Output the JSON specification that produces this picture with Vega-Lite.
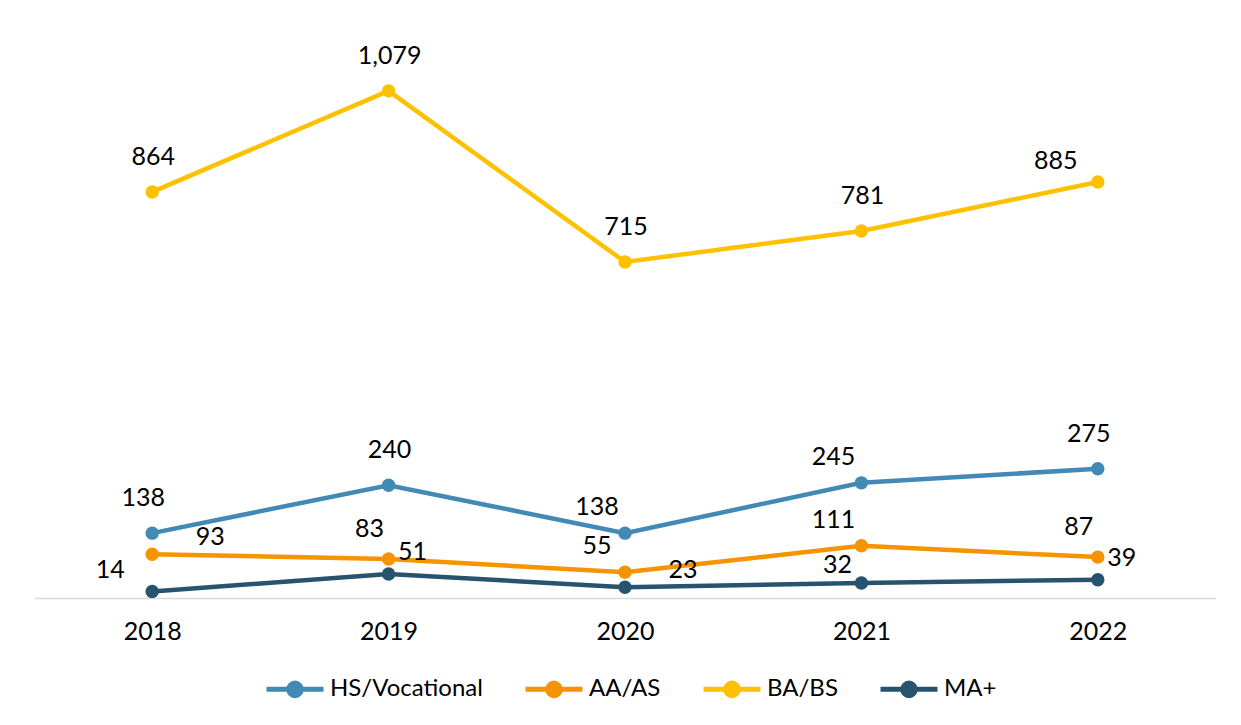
{
  "$schema": "https://vega.github.io/schema/vega-lite/v6.json",
  "width": 1182,
  "height": 564,
  "padding": {"left": 34, "top": 34, "right": 0, "bottom": 0},
  "autosize": {"type": "pad"},
  "background": "white",
  "config": {"view": {"stroke": null}, "font": "Lato"},
  "data": {
    "values": [
      {"series": "HS/Vocational", "year": "2018", "value": 138},
      {"series": "HS/Vocational", "year": "2019", "value": 240},
      {"series": "HS/Vocational", "year": "2020", "value": 138},
      {"series": "HS/Vocational", "year": "2021", "value": 245},
      {"series": "HS/Vocational", "year": "2022", "value": 275},
      {"series": "AA/AS", "year": "2018", "value": 93},
      {"series": "AA/AS", "year": "2019", "value": 83},
      {"series": "AA/AS", "year": "2020", "value": 55},
      {"series": "AA/AS", "year": "2021", "value": 111},
      {"series": "AA/AS", "year": "2022", "value": 87},
      {"series": "BA/BS", "year": "2018", "value": 864},
      {"series": "BA/BS", "year": "2019", "value": 1079},
      {"series": "BA/BS", "year": "2020", "value": 715},
      {"series": "BA/BS", "year": "2021", "value": 781},
      {"series": "BA/BS", "year": "2022", "value": 885},
      {"series": "MA+", "year": "2018", "value": 14},
      {"series": "MA+", "year": "2019", "value": 51},
      {"series": "MA+", "year": "2020", "value": 23},
      {"series": "MA+", "year": "2021", "value": 32},
      {"series": "MA+", "year": "2022", "value": 39}
    ]
  },
  "encoding": {
    "x": {
      "field": "year",
      "type": "ordinal",
      "sort": null,
      "scale": {"type": "point", "padding": 0.5},
      "axis": {
        "title": null,
        "labelAngle": 0,
        "labelFontSize": 25,
        "labelFont": "Lato",
        "labelColor": "#000000",
        "labelPadding": 21,
        "ticks": false,
        "domainColor": "#D9D9D9",
        "domainWidth": 1.5,
        "grid": false
      }
    },
    "y": {
      "field": "value",
      "type": "quantitative",
      "scale": {"domain": [0, 1200], "nice": false},
      "axis": null
    }
  },
  "layer": [
    {
      "mark": {"type": "line", "strokeWidth": 4.5},
      "encoding": {
        "color": {
          "field": "series",
          "type": "nominal",
          "scale": {
            "domain": ["HS/Vocational", "AA/AS", "BA/BS", "MA+"],
            "range": ["#4389B6", "#F59300", "#FFC000", "#27536E"]
          },
          "legend": {
            "title": null,
            "orient": "none",
            "legendX": 230,
            "legendY": 624,
            "direction": "horizontal",
            "labelFontSize": 24,
            "labelFont": "Lato",
            "labelColor": "#000000",
            "labelOffset": 4,
            "columnPadding": 32,
            "symbolType": "M-1,0H1M-0.22,0A0.22,0.22,0,1,1,0.22,0A0.22,0.22,0,1,1,-0.22,0Z",
            "symbolSize": 3249,
            "symbolStrokeWidth": 5,
            "encode": {
              "symbols": {
                "update": {
                  "fill": {"scale": "color", "field": "value"},
                  "stroke": {"scale": "color", "field": "value"},
                  "opacity": {"value": 1}
                }
              }
            }
          }
        }
      }
    },
    {
      "mark": {"type": "point", "filled": true, "size": 180, "opacity": 1},
      "encoding": {
        "color": {"field": "series", "type": "nominal", "legend": null}
      }
    },
    {
      "transform": [{"filter": "indexof(['BA/BS 2018','BA/BS 2019','BA/BS 2020','BA/BS 2021','HS/Vocational 2019'], datum.series + ' ' + datum.year) >= 0"}],
      "mark": {"type": "text", "dx": 1, "dy": -35, "fontSize": 25, "font": "Lato", "color": "#000000", "baseline": "middle", "align": "center"},
      "encoding": {"text": {"field": "value", "type": "quantitative", "format": ","}}
    },
    {
      "transform": [{"filter": "indexof(['HS/Vocational 2018','HS/Vocational 2022'], datum.series + ' ' + datum.year) >= 0"}],
      "mark": {"type": "text", "dx": -9, "dy": -35, "fontSize": 25, "font": "Lato", "color": "#000000", "baseline": "middle", "align": "center"},
      "encoding": {"text": {"field": "value", "type": "quantitative", "format": ","}}
    },
    {
      "transform": [{"filter": "indexof(['HS/Vocational 2020','HS/Vocational 2021','AA/AS 2020','AA/AS 2021'], datum.series + ' ' + datum.year) >= 0"}],
      "mark": {"type": "text", "dx": -28, "dy": -26, "fontSize": 25, "font": "Lato", "color": "#000000", "baseline": "middle", "align": "center"},
      "encoding": {"text": {"field": "value", "type": "quantitative", "format": ","}}
    },
    {
      "transform": [{"filter": "indexof(['AA/AS 2019','AA/AS 2022'], datum.series + ' ' + datum.year) >= 0"}],
      "mark": {"type": "text", "dx": -19, "dy": -30, "fontSize": 25, "font": "Lato", "color": "#000000", "baseline": "middle", "align": "center"},
      "encoding": {"text": {"field": "value", "type": "quantitative", "format": ","}}
    },
    {
      "transform": [{"filter": "indexof(['MA+ 2021'], datum.series + ' ' + datum.year) >= 0"}],
      "mark": {"type": "text", "dx": -24, "dy": -18, "fontSize": 25, "font": "Lato", "color": "#000000", "baseline": "middle", "align": "center"},
      "encoding": {"text": {"field": "value", "type": "quantitative", "format": ","}}
    },
    {
      "transform": [{"filter": "indexof(['BA/BS 2022','MA+ 2018'], datum.series + ' ' + datum.year) >= 0"}],
      "mark": {"type": "text", "dx": -42, "dy": -21, "fontSize": 25, "font": "Lato", "color": "#000000", "baseline": "middle", "align": "center"},
      "encoding": {"text": {"field": "value", "type": "quantitative", "format": ","}}
    },
    {
      "transform": [{"filter": "indexof(['MA+ 2019','MA+ 2022'], datum.series + ' ' + datum.year) >= 0"}],
      "mark": {"type": "text", "dx": 24, "dy": -22, "fontSize": 25, "font": "Lato", "color": "#000000", "baseline": "middle", "align": "center"},
      "encoding": {"text": {"field": "value", "type": "quantitative", "format": ","}}
    },
    {
      "transform": [{"filter": "indexof(['AA/AS 2018','MA+ 2020'], datum.series + ' ' + datum.year) >= 0"}],
      "mark": {"type": "text", "dx": 58, "dy": -17, "fontSize": 25, "font": "Lato", "color": "#000000", "baseline": "middle", "align": "center"},
      "encoding": {"text": {"field": "value", "type": "quantitative", "format": ","}}
    }
  ]
}
